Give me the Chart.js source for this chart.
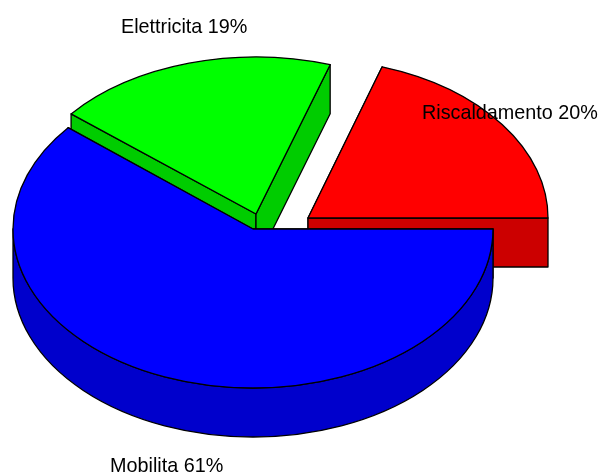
<!DOCTYPE html>
<html>
<head>
<meta charset="utf-8">
<style>html,body{margin:0;padding:0;background:#fff}canvas{display:block}</style>
<script src="https://cdn.jsdelivr.net/npm/chart.js@4"></script>
</head>
<body>
<canvas id="c" width="598" height="472" style="width:598px;height:472px"></canvas>
<script>
// Data (clockwise from the start of the first slice)
const categories = ["Riscaldamento", "Mobilita", "Elettricita"];
const shares = [20, 61, 19];
const topColors = ["#ff0000", "#0000ff", "#00ff00"];
const sideColors = ["#cc0000", "#0000cc", "#00cc00"];

// Presentation of the flattened, exploded pie
const radiusX = 240, depth = 49;
const radiiY = [159, 159, 157];
const centres = [[308, 218], [253, 229], [256, 214]];
const paintOrder = [2, 0, 1];
const labelSpots = [[422, 119], [110, 472], [121, 33]];
const labelFont = '19.8px "Liberation Sans", Arial, sans-serif';

const pie3d = {
  id: 'pie3d',
  beforeDatasetDraw(chart, args) {
    const ctx = chart.ctx;
    const arcs = chart.getDatasetMeta(args.index).data;
    ctx.lineWidth = 1.3;
    ctx.strokeStyle = '#000';
    ctx.lineJoin = 'round';
    paintOrder.forEach(i => {
      const arc = arcs[i];
      const p = arc.getProps(['x', 'y', 'startAngle', 'endAngle', 'outerRadius'], true);
      const [cx, cy] = centres[i];
      const radiusY = radiiY[i];
      const edgePt = a => [cx + radiusX * Math.cos(a), cy + radiusY * Math.sin(a)];
      ctx.fillStyle = sideColors[i];
      // radial side faces
      [p.startAngle, p.endAngle].forEach(a => {
        const [ex, ey] = edgePt(a);
        ctx.beginPath();
        ctx.moveTo(cx, cy);
        ctx.lineTo(ex, ey);
        ctx.lineTo(ex, ey + depth);
        ctx.lineTo(cx, cy + depth);
        ctx.closePath();
        ctx.fill();
        ctx.stroke();
      });
      // curved outer face (only the part turned towards the viewer)
      for (let k = -1; k <= 1; k++) {
        const lo = Math.max(p.startAngle, k * 2 * Math.PI);
        const hi = Math.min(p.endAngle, k * 2 * Math.PI + Math.PI);
        if (hi - lo < 1e-6) continue;
        ctx.beginPath();
        ctx.ellipse(cx, cy, radiusX, radiusY, 0, lo, hi);
        ctx.ellipse(cx, cy + depth, radiusX, radiusY, 0, hi, lo, true);
        ctx.closePath();
        ctx.fill();
        ctx.stroke();
      }
      // top face: the library's arc element, flattened
      ctx.save();
      ctx.translate(cx, cy);
      ctx.scale(radiusX / p.outerRadius, radiusY / p.outerRadius);
      ctx.translate(-p.x, -p.y);
      arc.draw(ctx);
      ctx.restore();
      ctx.beginPath();
      ctx.moveTo(cx, cy);
      ctx.ellipse(cx, cy, radiusX, radiusY, 0, p.startAngle, p.endAngle);
      ctx.closePath();
      ctx.stroke();
    });
    ctx.fillStyle = '#000';
    ctx.font = labelFont;
    ctx.textAlign = 'left';
    ctx.textBaseline = 'alphabetic';
    categories.forEach((c, i) => {
      ctx.fillText(c + ' ' + shares[i] + '%', labelSpots[i][0], labelSpots[i][1]);
    });
    return false;
  }
};

new Chart(document.getElementById('c'), {
  type: 'pie',
  data: {
    labels: categories,
    datasets: [{ data: shares, backgroundColor: topColors, borderWidth: 0 }]
  },
  options: {
    responsive: false,
    animation: false,
    rotation: 18,
    plugins: { legend: { display: false }, tooltip: { enabled: false }, title: { display: false } }
  },
  plugins: [pie3d]
});
</script>
</body>
</html>
